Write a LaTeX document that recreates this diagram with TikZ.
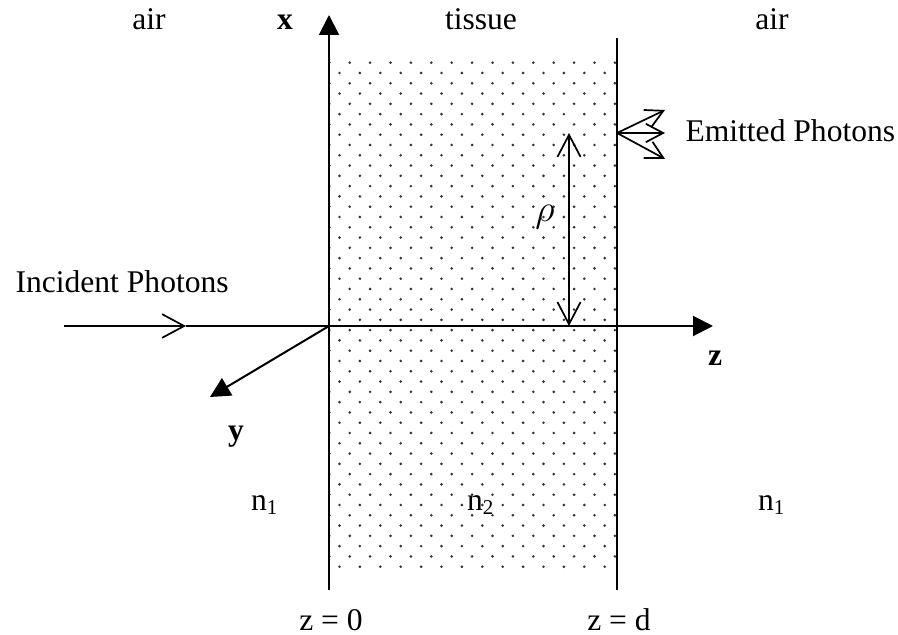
\documentclass[tikz,border=0pt]{standalone}
\usepackage{fontspec}
\setmainfont{Liberation Serif}
\usepackage{tikz}
\usetikzlibrary{arrows.meta}

\begin{document}
\begin{tikzpicture}[
    x=0.38pt, y=-0.38pt,
    lbl/.style={font=\fontsize{12}{14}\selectfont, inner sep=0pt, anchor=base},
    axis/.style={line width=0.76pt, -{Triangle[length=7.6pt,width=7.6pt]}},
    wall/.style={line width=0.76pt},
    photon/.style={line width=0.65pt, -{Straight Barb[length=8.4pt,width=9pt]}},
    span/.style={line width=0.65pt,
                 {Straight Barb[length=8.4pt,width=8.8pt]}-{Straight Barb[length=8.4pt,width=8.8pt]}},
    emit/.style={line width=0.65pt, -{Straight Barb[length=6.6pt,width=7pt]}},
    speck/.style={fill=black!80},
  ]
  \useasboundingbox (0,0) rectangle (898,635);

  % dotted tissue slab
  \foreach \r in {0,...,49}{
    \pgfmathsetmacro{\yy}{62.7+10.286*\r}
    \pgfmathsetmacro{\xo}{329.3+10.2*mod(\r,2)}
    \pgfmathtruncatemacro{\nc}{14-mod(\r,2)}
    \foreach \c in {0,...,\nc}
      \fill[speck] (\xo+20.4*\c,\yy) circle[radius=0.55pt];
  }

  \coordinate (O) at (329,326);
  \coordinate (xtip) at (329,15);
  \coordinate (lbot) at (329,590);
  \coordinate (rtop) at (617,38);
  \coordinate (rbot) at (617,590);
  \coordinate (ztip) at (713,326);
  \coordinate (ytip) at (210,397);
  \coordinate (inc) at (64,326);
  \coordinate (incmid) at (186,326);
  \coordinate (rhotop) at (569,133);
  \coordinate (rhobot) at (569,326);
  \coordinate (src) at (617,133);
  \coordinate (e1) at (665,110);
  \coordinate (e2) at (665,133);
  \coordinate (e3) at (665,159);

  \draw[axis] (lbot) -- (xtip);
  \draw[wall] (rbot) -- (rtop);
  \draw[axis] (O) -- (ztip);
  \draw[axis] (O) -- (ytip);
  \draw[photon] (inc) -- (incmid);
  \draw[wall] (incmid) -- (O);
  \draw[span] (rhobot) -- (rhotop);
  \foreach \e in {e1,e2,e3}
    \draw[emit] (src) -- (\e);

  \node[lbl] (airl) at (149,30) {air};
  \node[lbl] (xlbl) at (285,30) {\textbf{x}};
  \node[lbl] (tissue) at (481,30) {tissue};
  \node[lbl] (airr) at (772,30) {air};
  \node[lbl, anchor=base west] (emitted) at (685,142) {Emitted Photons};
  \node[lbl, font=\fontsize{15}{17}\selectfont] (rho) at (545,222) {$\rho$};
  \node[lbl, anchor=base west] (incident) at (15,293) {Incident Photons};
  \node[lbl] (zlbl) at (715,366) {\textbf{z}};
  \node[lbl] (ylbl) at (236,441) {\textbf{y}};
  \node[lbl] (nl) at (265,510) {n\textsubscript{1}};
  \node[lbl] (nm) at (481,510) {n\textsubscript{2}};
  \node[lbl] (nr) at (772,510) {n\textsubscript{1}};
  \node[lbl] (zzero) at (331,630) {z = 0};
  \node[lbl] (zd) at (619,630) {z = d};
\end{tikzpicture}
\end{document}
